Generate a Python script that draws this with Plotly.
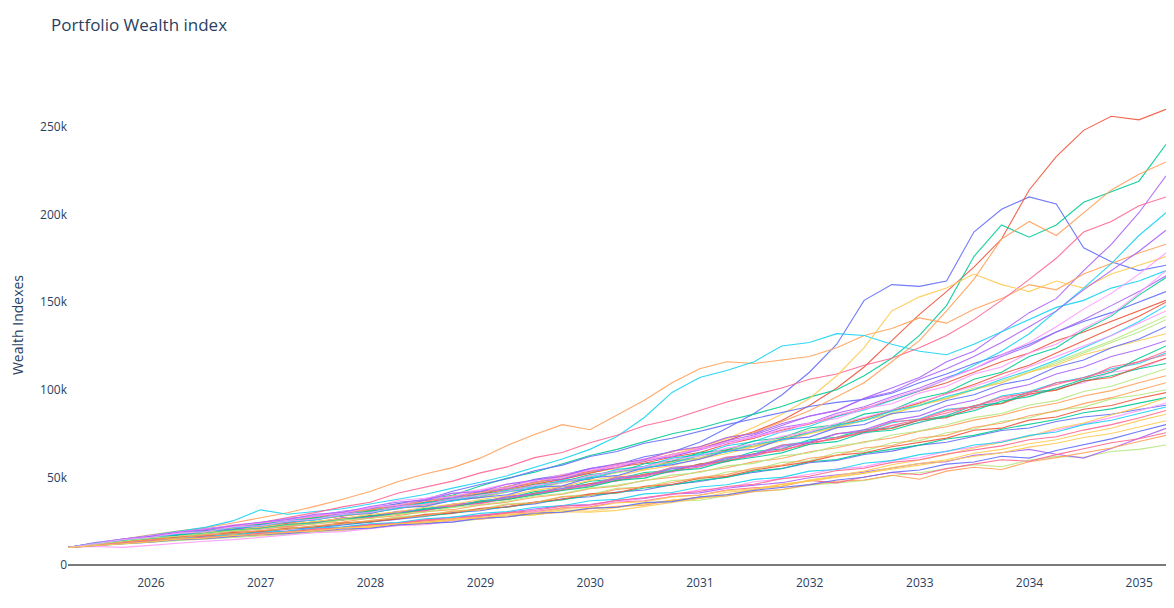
import pandas as pd
import plotly.graph_objects as go

# Values, in thousands, one point per quarter
path_00 = [10, 12.4, 14.5, 16.6, 18.5, 20.2, 21.4, 23.5, 25.2, 27.8, 29.4, 32.0, 34.1, 36.9, 38.8, 42.0, 44.6, 48.9, 51.3, 55.0, 57.2, 61.8, 64.5, 70.1, 78.0, 86.5, 97.0, 110, 126, 151, 160, 159, 162, 190, 203, 210, 206, 181, 173, 168, 171]
path_01 = [10, 12.2, 14.3, 16.0, 17.9, 19.5, 21.0, 22.6, 24.8, 26.9, 28.5, 31.2, 33.4, 35.8, 38.5, 40.6, 43.9, 47.0, 50.8, 53.6, 56.9, 59.0, 63.2, 66.5, 71.0, 76.2, 82.5, 91.0, 101, 113, 128, 143, 156, 170, 186, 214, 233, 248, 256, 254, 260]
path_02 = [10, 11.8, 13.9, 16.3, 18.0, 19.9, 21.9, 23.4, 25.6, 27.4, 29.9, 32.3, 34.6, 37.0, 39.8, 45.1, 49.6, 53.0, 57.8, 62.5, 66.0, 70.4, 74.9, 78.0, 82.3, 86.1, 90.5, 95.8, 100, 108, 118, 131, 148, 176, 194, 187, 194, 207, 213, 219, 240]
path_03 = [10, 12.1, 13.6, 15.8, 17.6, 18.9, 20.8, 22.1, 24.0, 26.3, 28.1, 30.4, 32.9, 35.7, 37.6, 40.8, 43.1, 46.9, 49.0, 52.7, 55.4, 59.8, 62.1, 66.0, 70.9, 74.2, 79.6, 85.0, 88.3, 95.1, 101, 107, 116, 122, 133, 144, 152, 168, 183, 201, 222]
path_04 = [10, 12.5, 14.7, 17.2, 19.4, 21.3, 24.0, 26.8, 29.8, 33.5, 37.5, 42.0, 47.5, 51.9, 55.6, 61.0, 68.2, 74.5, 80.1, 77.2, 85.5, 94.0, 104, 112, 116, 115, 117, 119, 124, 131, 135, 141, 138, 146, 152, 160, 157, 166, 172, 178, 183]
path_05 = [10, 12.3, 14.6, 16.9, 19.2, 21.5, 25.2, 31.5, 29.0, 30.4, 32.1, 34.8, 37.5, 40.3, 43.9, 47.2, 51.0, 55.8, 60.5, 66.0, 73.4, 84.2, 98.5, 107, 111, 116, 125, 127, 132, 131, 126, 122, 120, 126, 133, 140, 147, 151, 158, 162, 168]
path_06 = [10, 11.9, 14.1, 16.4, 18.8, 20.6, 22.0, 24.3, 26.9, 29.9, 33.2, 35.8, 41.0, 44.5, 47.9, 52.6, 56.0, 61.3, 64.2, 69.8, 74.1, 79.5, 83.0, 88.2, 93.0, 97.1, 101, 106, 109, 114, 118, 124, 131, 140, 151, 163, 175, 190, 196, 205, 210]
path_07 = [10, 11.2, 12.0, 13.1, 14.0, 14.9, 15.6, 16.8, 17.5, 18.9, 19.8, 21.2, 22.4, 23.9, 24.6, 26.3, 27.9, 28.8, 30.7, 32.4, 33.0, 35.1, 36.4, 37.0, 39.5, 41.8, 43.0, 45.6, 46.9, 48.2, 51.0, 52.7, 54.9, 57.3, 56.1, 59.8, 62.0, 61.5, 64.8, 66.0, 68.5]
path_08 = [10, 12.0, 13.5, 15.1, 16.8, 17.6, 19.2, 20.3, 22.1, 23.5, 25.8, 27.0, 29.4, 31.1, 33.6, 34.9, 37.7, 40.9, 42.6, 46.3, 48.1, 51.5, 53.0, 56.2, 59.8, 62.1, 66.9, 69.5, 72.8, 74.9, 79.3, 81.0, 85.8, 88.9, 94.5, 97.1, 101, 104, 110, 112, 118]
path_09 = [10, 12.2, 13.9, 15.9, 17.7, 19.1, 20.5, 22.4, 24.0, 26.1, 28.4, 30.0, 32.9, 34.8, 37.9, 40.1, 43.5, 46.2, 49.9, 52.8, 55.1, 59.6, 62.8, 67.5, 72.0, 78.6, 86.1, 95.0, 108, 124, 145, 153, 158, 166, 160, 156, 162, 158, 166, 171, 176]
path_10 = [10, 11.5, 13.0, 14.2, 15.7, 16.5, 17.9, 18.6, 20.4, 21.2, 22.9, 24.6, 26.0, 27.8, 29.9, 31.0, 33.4, 34.9, 37.8, 39.0, 41.6, 42.8, 45.9, 47.7, 50.2, 52.9, 55.0, 58.4, 59.7, 63.1, 65.0, 68.4, 70.1, 73.6, 76.8, 78.2, 81.9, 84.5, 86.0, 88.7, 91.2]
path_11 = [10, 12.6, 14.4, 16.0, 17.3, 19.4, 20.9, 22.8, 24.1, 26.8, 28.4, 31.1, 32.8, 35.7, 37.2, 40.4, 42.9, 46.1, 48.8, 52.4, 55.9, 58.1, 61.6, 64.2, 68.9, 72.4, 77.0, 80.5, 85.1, 89.6, 94.0, 99.3, 104, 110, 116, 121, 128, 133, 139, 145, 151]
path_12 = [10, 11.7, 13.8, 15.6, 16.9, 18.6, 19.3, 21.4, 22.5, 24.8, 25.9, 28.3, 29.6, 32.4, 33.7, 36.6, 38.2, 41.9, 43.5, 47.8, 49.1, 52.8, 53.9, 57.6, 60.1, 64.8, 66.2, 71.5, 72.9, 77.1, 78.3, 82.6, 85.2, 91.0, 92.4, 98.7, 100, 105, 108, 112, 115]
path_13 = [10, 11.3, 12.8, 14.3, 15.0, 16.2, 17.4, 18.1, 19.6, 20.8, 21.5, 23.2, 24.1, 25.9, 27.4, 28.2, 30.1, 31.6, 33.9, 34.5, 36.8, 38.0, 40.5, 41.2, 43.9, 45.6, 47.0, 49.8, 51.3, 53.0, 55.4, 57.9, 59.0, 62.6, 64.1, 66.0, 63.2, 61.0, 66.5, 72.1, 78.0]
path_14 = [10, 11.0, 12.3, 13.5, 14.6, 15.2, 16.5, 17.1, 18.3, 19.5, 20.0, 21.6, 22.9, 23.6, 25.4, 26.1, 27.9, 29.3, 30.0, 32.1, 33.5, 34.2, 36.9, 38.6, 39.4, 42.0, 43.1, 45.9, 47.8, 48.5, 51.2, 49.0, 53.6, 55.8, 54.5, 58.9, 61.3, 64.0, 66.8, 70.5, 74.0]
path_15 = [10, 12.1, 13.6, 15.3, 17.2, 18.0, 19.9, 21.2, 22.9, 24.1, 26.6, 27.7, 30.3, 31.8, 34.5, 36.0, 38.9, 41.0, 44.7, 46.2, 50.0, 51.4, 55.3, 56.8, 61.2, 63.5, 68.3, 70.6, 74.9, 76.0, 81.2, 83.5, 88.9, 90.1, 96.4, 99.0, 104, 107, 112, 115, 121]
path_16 = [10, 11.4, 12.5, 13.9, 14.8, 15.6, 16.9, 17.8, 18.9, 20.3, 21.0, 22.7, 23.5, 25.2, 26.0, 27.8, 29.5, 30.4, 32.6, 33.2, 35.9, 36.7, 39.1, 40.0, 42.8, 44.1, 45.0, 48.3, 46.9, 50.2, 52.8, 51.5, 55.0, 57.6, 60.1, 59.2, 63.0, 66.4, 69.8, 72.1, 75.5]
path_17 = [10, 12.4, 14.2, 16.1, 17.5, 19.8, 21.1, 23.0, 24.9, 26.5, 29.1, 30.8, 33.5, 35.1, 38.0, 39.6, 42.8, 45.1, 48.0, 50.6, 54.2, 56.0, 59.4, 62.1, 65.8, 69.0, 72.7, 76.9, 80.1, 83.8, 87.5, 92.0, 95.4, 101, 104, 110, 115, 121, 127, 133, 140]
path_18 = [10, 10.6, 10.1, 11.4, 12.3, 13.6, 14.5, 15.8, 16.9, 18.4, 19.1, 20.9, 22.4, 23.0, 25.1, 26.6, 28.0, 30.3, 31.9, 34.4, 35.8, 38.5, 40.1, 42.9, 44.0, 47.5, 49.2, 51.8, 54.9, 56.0, 59.7, 61.2, 65.0, 67.3, 70.8, 73.5, 77.0, 80.4, 84.1, 88.0, 92.5]
path_19 = [10, 11.1, 12.6, 13.4, 14.9, 15.5, 16.8, 17.9, 18.4, 20.0, 21.3, 22.0, 23.7, 24.5, 26.2, 27.0, 28.6, 29.3, 31.5, 30.7, 32.9, 34.8, 37.1, 38.3, 41.5, 43.0, 45.9, 48.1, 50.5, 52.4, 55.6, 57.9, 60.1, 63.8, 66.0, 69.2, 71.5, 75.1, 78.0, 82.4, 86.0]
path_20 = [10, 12.8, 14.9, 16.7, 18.4, 20.7, 22.3, 24.1, 26.6, 28.0, 30.6, 32.2, 35.0, 37.4, 42.1, 46.0, 49.2, 53.8, 57.0, 61.9, 64.8, 69.5, 72.3, 76.4, 80.1, 83.5, 86.8, 90.5, 92.8, 94.5, 98.0, 104, 109, 115, 120, 126, 133, 139, 144, 150, 156]
path_21 = [10, 11.9, 13.3, 15.5, 16.6, 18.5, 19.4, 21.0, 22.0, 24.4, 25.6, 28.1, 29.0, 31.7, 33.2, 36.3, 37.5, 41.0, 42.8, 46.5, 48.0, 51.9, 53.4, 57.7, 59.0, 63.5, 65.2, 69.8, 72.0, 76.1, 77.9, 82.8, 84.1, 89.7, 92.0, 97.6, 99.8, 105, 107, 113, 118]
path_22 = [10, 11.6, 12.9, 14.8, 15.9, 17.0, 18.3, 19.1, 20.8, 21.9, 23.5, 24.6, 26.8, 28.0, 29.5, 31.8, 33.0, 35.6, 37.2, 39.9, 41.1, 44.0, 45.7, 48.3, 50.0, 53.6, 55.1, 58.9, 60.2, 63.7, 66.0, 68.4, 71.9, 74.0, 77.5, 80.2, 83.0, 86.9, 89.1, 92.4, 95.5]
path_23 = [10, 12.5, 14.0, 16.6, 18.1, 20.0, 21.8, 23.9, 25.3, 27.9, 29.2, 32.0, 33.6, 36.8, 38.3, 41.9, 43.4, 47.5, 49.2, 53.3, 55.8, 59.4, 62.0, 65.7, 69.9, 73.2, 78.5, 81.0, 86.6, 90.3, 96.0, 101, 107, 112, 119, 125, 133, 140, 148, 156, 165]
path_24 = [10, 12.2, 14.5, 16.2, 18.6, 19.9, 22.4, 23.6, 26.0, 27.3, 30.1, 31.6, 34.4, 36.1, 39.5, 41.2, 45.0, 46.9, 51.3, 53.1, 57.9, 60.0, 64.8, 67.2, 72.6, 75.5, 81.9, 88.0, 96.0, 104, 116, 128, 145, 163, 186, 196, 188, 201, 214, 223, 230]
path_25 = [10, 12.0, 14.2, 15.9, 18.0, 19.2, 21.6, 22.9, 25.5, 26.4, 29.0, 30.2, 33.1, 34.5, 37.9, 39.0, 42.6, 44.7, 48.3, 50.1, 54.6, 56.3, 61.0, 63.0, 68.1, 70.5, 76.0, 79.2, 84.8, 88.5, 94.1, 99.5, 106, 114, 122, 132, 145, 158, 172, 188, 201]
path_26 = [10, 12.2, 13.4, 15.8, 16.5, 18.7, 19.0, 21.5, 22.3, 24.0, 26.9, 27.5, 30.6, 31.0, 34.8, 35.3, 39.4, 40.2, 44.9, 45.7, 50.3, 51.1, 55.8, 57.0, 61.6, 63.0, 68.5, 69.9, 75.1, 76.3, 81.8, 83.0, 88.1, 90.6, 95.9, 98.0, 104, 106, 113, 116, 122]
path_27 = [10, 11.4, 13.1, 14.5, 16.3, 16.9, 18.6, 19.4, 21.3, 22.0, 24.2, 24.9, 27.5, 28.6, 30.8, 32.0, 34.9, 35.7, 39.1, 40.3, 43.8, 44.5, 48.2, 49.0, 53.1, 54.4, 58.6, 59.5, 64.2, 65.0, 69.8, 71.0, 75.5, 77.6, 81.9, 84.0, 88.3, 90.1, 94.8, 97.0, 100]
path_28 = [10, 12.7, 14.8, 16.5, 18.9, 20.3, 22.9, 24.0, 26.4, 27.7, 30.5, 32.4, 36.8, 38.1, 41.0, 42.9, 46.3, 48.0, 51.7, 53.9, 57.0, 59.5, 63.1, 66.0, 70.2, 72.8, 77.5, 80.9, 85.6, 89.0, 95.2, 99.8, 106, 112, 120, 127, 136, 146, 155, 166, 178]
path_29 = [10, 11.5, 12.9, 14.1, 15.3, 16.0, 17.1, 18.5, 19.0, 20.6, 21.4, 22.5, 23.8, 24.9, 25.6, 27.3, 28.0, 28.6, 30.4, 30.1, 31.2, 33.5, 35.4, 37.9, 40.2, 43.1, 45.0, 48.5, 51.0, 53.6, 57.2, 59.9, 63.0, 66.8, 70.1, 73.5, 77.9, 81.0, 85.6, 90.1, 95.3]
path_30 = [10, 11.3, 12.2, 13.0, 14.5, 15.1, 16.3, 17.5, 18.0, 19.4, 20.6, 21.0, 22.9, 23.8, 24.5, 26.7, 27.4, 29.6, 30.1, 32.5, 33.0, 35.6, 36.2, 38.9, 40.1, 42.6, 44.3, 45.9, 48.5, 50.1, 52.9, 54.2, 57.6, 58.8, 62.1, 61.0, 65.4, 68.9, 72.0, 76.2, 80.1]
path_31 = [10, 12.3, 14.0, 16.2, 17.6, 19.0, 20.8, 22.5, 23.9, 26.0, 27.8, 29.9, 32.1, 34.4, 36.8, 38.5, 41.9, 43.6, 47.3, 49.0, 53.2, 54.8, 59.1, 61.0, 65.4, 67.9, 72.0, 75.8, 79.3, 83.6, 88.0, 92.5, 97.8, 103, 109, 114, 121, 128, 135, 142, 150]
path_32 = [10, 12.1, 14.6, 16.0, 18.3, 19.5, 21.2, 23.3, 24.5, 27.0, 28.2, 31.0, 32.4, 35.6, 36.9, 40.5, 41.8, 45.9, 47.4, 51.6, 53.0, 57.8, 59.4, 64.0, 65.7, 70.9, 72.6, 78.2, 80.0, 86.1, 88.3, 95.0, 98.4, 106, 110, 119, 124, 134, 142, 154, 164]
path_33 = [10, 11.8, 13.9, 15.1, 17.4, 18.1, 20.4, 21.0, 23.4, 24.2, 26.9, 27.6, 30.5, 31.4, 34.6, 35.5, 38.9, 40.3, 43.8, 45.5, 49.3, 50.8, 54.9, 56.5, 60.8, 63.0, 67.6, 70.0, 74.8, 77.2, 82.4, 85.1, 90.7, 94.0, 99.6, 103, 109, 113, 119, 123, 128]
path_34 = [10, 11.7, 13.2, 15.4, 16.2, 18.3, 18.9, 20.7, 21.8, 23.7, 24.5, 26.8, 28.2, 30.5, 31.6, 34.2, 35.9, 38.7, 40.4, 43.6, 45.0, 48.3, 50.1, 53.4, 55.5, 59.0, 60.8, 64.6, 66.9, 70.3, 72.5, 76.4, 78.9, 82.7, 85.5, 89.6, 92.3, 96.4, 99.5, 104, 108]
path_35 = [10, 11.2, 12.7, 13.9, 15.1, 16.4, 17.0, 18.8, 19.3, 21.1, 21.8, 23.6, 24.3, 26.4, 27.2, 29.5, 30.5, 33.0, 33.8, 36.7, 37.5, 40.6, 41.4, 44.5, 45.8, 48.9, 50.0, 53.6, 54.5, 58.1, 59.6, 63.0, 64.8, 68.5, 70.1, 74.0, 75.9, 80.1, 82.6, 86.5, 90.2]
path_36 = [10, 12.0, 13.7, 15.2, 17.0, 17.8, 19.6, 20.9, 22.6, 23.7, 26.0, 27.1, 29.7, 30.9, 33.9, 35.2, 38.0, 40.1, 43.0, 45.1, 48.6, 50.5, 53.7, 55.9, 59.8, 62.4, 66.0, 68.8, 72.9, 75.6, 79.7, 82.9, 86.8, 90.5, 94.9, 98.6, 103, 107, 111, 116, 120]
path_37 = [10, 12.3, 14.4, 16.3, 18.0, 19.1, 21.0, 22.2, 24.5, 25.8, 28.3, 29.5, 32.6, 34.0, 36.9, 38.6, 41.6, 43.9, 46.8, 49.5, 52.7, 55.1, 58.6, 61.0, 64.9, 67.8, 71.5, 74.9, 78.8, 82.5, 86.6, 90.9, 95.1, 100, 105, 110, 116, 122, 128, 135, 142]
path_38 = [10, 12.6, 14.1, 16.8, 18.2, 20.5, 21.7, 24.2, 25.6, 28.4, 29.6, 32.9, 34.2, 37.6, 39.0, 42.8, 44.1, 48.4, 49.8, 54.5, 55.9, 60.7, 62.2, 66.9, 68.5, 73.8, 75.9, 81.0, 83.6, 89.2, 92.0, 98.1, 102, 109, 113, 121, 126, 135, 143, 155, 168]
path_39 = [10, 11.9, 13.7, 15.7, 17.1, 18.8, 20.0, 21.7, 23.1, 25.2, 26.5, 28.9, 30.4, 33.0, 34.6, 37.4, 39.5, 42.6, 44.9, 48.2, 50.7, 54.3, 56.8, 60.6, 63.6, 67.4, 70.8, 74.9, 78.3, 82.6, 86.0, 91.2, 94.8, 100, 104, 110, 114, 120, 124, 128, 132]
path_40 = [10, 12.6, 13.9, 16.3, 17.1, 19.6, 20.2, 22.8, 24.6, 25.9, 28.7, 29.4, 32.8, 33.5, 36.9, 38.4, 40.1, 44.3, 45.2, 49.8, 51.0, 55.6, 57.3, 60.4, 64.9, 66.1, 71.8, 73.0, 78.4, 80.2, 86.5, 88.0, 93.9, 97.2, 103, 106, 113, 117, 124, 129, 136]
path_41 = [10, 11.6, 13.4, 14.4, 16.0, 16.8, 18.5, 19.2, 21.0, 21.7, 23.9, 24.8, 26.3, 28.9, 29.6, 32.4, 33.1, 36.0, 37.5, 40.6, 41.3, 44.9, 46.0, 49.5, 50.6, 54.2, 56.8, 59.0, 62.7, 64.1, 67.5, 70.0, 72.4, 76.9, 78.1, 82.7, 84.5, 88.9, 91.0, 95.2, 98.4]
path_42 = [10, 12.1, 14.0, 15.0, 17.3, 18.1, 20.0, 20.8, 23.1, 24.0, 26.1, 27.9, 29.3, 31.9, 33.0, 36.1, 37.4, 40.0, 42.5, 44.6, 48.3, 49.6, 53.8, 55.0, 59.3, 61.5, 64.0, 68.9, 70.4, 75.6, 76.9, 81.5, 84.9, 88.0, 93.6, 96.1, 101, 106, 110, 118, 125]
path_43 = [10, 12.5, 14.9, 16.4, 18.7, 20.1, 22.6, 24.4, 26.0, 28.9, 30.1, 33.4, 35.8, 37.2, 40.9, 42.0, 46.1, 48.5, 50.6, 55.0, 57.8, 60.2, 65.1, 67.5, 72.8, 75.0, 80.6, 84.9, 88.1, 95.0, 98.7, 106, 112, 119, 127, 136, 145, 157, 168, 179, 191]
path_44 = [10, 11.4, 13.0, 14.6, 15.4, 17.2, 17.9, 19.8, 20.5, 22.6, 23.4, 25.5, 26.9, 28.1, 30.6, 31.5, 34.4, 35.5, 38.9, 39.7, 43.2, 44.5, 47.1, 50.0, 51.6, 55.3, 57.0, 60.9, 62.6, 66.8, 68.2, 72.5, 74.0, 78.6, 80.9, 85.2, 87.8, 92.1, 95.5, 99.8, 104]
path_45 = [10, 12.4, 14.3, 15.6, 17.8, 19.0, 21.3, 22.1, 24.7, 25.8, 28.6, 30.0, 32.2, 35.4, 36.5, 39.8, 41.9, 44.0, 47.8, 49.3, 53.5, 55.4, 58.1, 62.7, 64.5, 69.0, 71.3, 75.6, 79.8, 82.4, 87.9, 91.0, 96.2, 100, 106, 111, 117, 124, 131, 139, 148]
path_46 = [10, 11.3, 12.5, 13.8, 14.7, 16.0, 16.6, 18.2, 18.8, 20.5, 21.2, 23.0, 23.7, 25.8, 26.5, 28.6, 29.9, 31.1, 33.6, 34.3, 37.0, 38.4, 40.6, 42.0, 44.8, 46.1, 49.3, 50.7, 53.9, 55.2, 58.6, 60.1, 63.4, 65.8, 68.0, 71.5, 73.2, 77.0, 80.1, 83.9, 88.2]
path_47 = [10, 11.8, 13.5, 15.4, 16.4, 18.0, 19.5, 20.6, 22.6, 23.5, 25.8, 26.6, 29.1, 30.2, 32.9, 34.4, 36.5, 39.4, 40.8, 43.9, 45.6, 48.1, 51.3, 52.8, 56.6, 58.0, 62.3, 63.9, 68.1, 69.8, 74.2, 76.5, 80.0, 84.1, 86.5, 91.3, 93.8, 99.0, 102, 107, 112]
path_48 = [10, 12.2, 14.5, 15.9, 18.1, 19.0, 21.7, 22.5, 25.0, 26.2, 28.9, 30.0, 33.2, 34.6, 37.5, 39.9, 42.0, 45.6, 47.1, 51.0, 53.4, 56.0, 60.2, 62.4, 66.7, 69.1, 73.5, 76.0, 80.9, 84.2, 88.6, 93.1, 97.4, 102, 107, 113, 119, 125, 131, 138, 145]
path_49 = [10, 11.0, 12.4, 13.2, 14.8, 15.3, 16.9, 17.4, 18.9, 19.3, 21.2, 21.8, 23.6, 24.1, 26.3, 27.0, 29.1, 29.8, 32.3, 32.9, 35.5, 36.1, 38.9, 39.8, 42.4, 43.5, 46.2, 47.9, 50.1, 52.3, 54.8, 57.0, 59.4, 62.1, 64.0, 67.3, 69.5, 72.8, 75.1, 78.6, 82.3]

paths = [path_00, path_01, path_02, path_03, path_04, path_05, path_06, path_07, path_08, path_09,
         path_10, path_11, path_12, path_13, path_14, path_15, path_16, path_17, path_18, path_19,
         path_20, path_21, path_22, path_23, path_24, path_25, path_26, path_27, path_28, path_29,
         path_30, path_31, path_32, path_33, path_34, path_35, path_36, path_37, path_38, path_39,
         path_40, path_41, path_42, path_43, path_44, path_45, path_46, path_47, path_48, path_49]

colorway = ["#636efa", "#EF553B", "#00cc96", "#ab63fa", "#FFA15A",
            "#19d3f3", "#FF6692", "#B6E880", "#FF97FF", "#FECB52"]

try:
    dates = pd.date_range(start="2025-03-31", periods=41, freq="QE")
except Exception:
    dates = pd.date_range(start="2025-03-31", periods=41, freq="Q")

fig = go.Figure()
for i, p in enumerate(paths):
    fig.add_trace(go.Scatter(
        x=dates, y=[v * 1000 for v in p], mode="lines",
        name=str(i), line=dict(width=1.1, color=colorway[i % len(colorway)]),
        opacity=0.9,
    ))

fig.update_layout(
    template="plotly_white",
    title=dict(text="Portfolio Wealth index", x=0.0371, xanchor="left",
               y=0.9713, yanchor="middle", font=dict(size=17)),
    showlegend=False,
    margin=dict(l=60, r=0, t=68, b=26),
    plot_bgcolor="white",
    paper_bgcolor="white",
)
fig.update_xaxes(showgrid=False, zeroline=False, dtick="M12", showline=False)
fig.update_yaxes(title_text="Wealth Indexes", showgrid=False,
                 zeroline=True, zerolinecolor="#7a7a7a", zerolinewidth=2,
                 range=[-5100, 279000], dtick=50000)

fig.write_html("out.html")
